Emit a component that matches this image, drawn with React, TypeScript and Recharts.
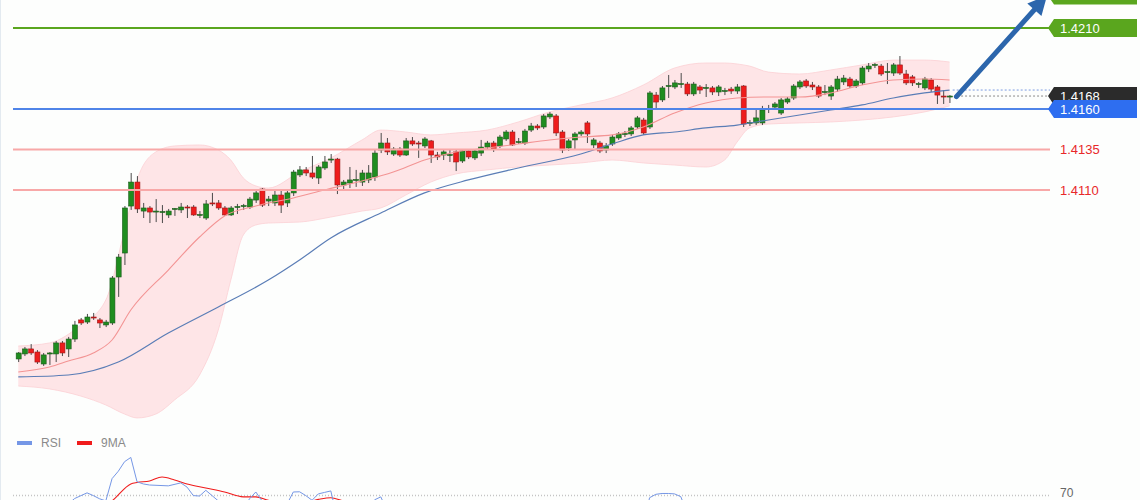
import React from 'react';
import { ComposedChart, LineChart, Bar, Line, Area, XAxis, YAxis, ReferenceLine } from 'recharts';

// ---- candles (index = position in arrays) ----
const opens = [
  1.40057, 1.40088, 1.40119, 1.40100, 1.40026, 1.40088, 1.40088, 1.40156, 1.40119, 1.40180,
  1.40298, 1.40285, 1.40316, 1.40298, 1.40267, 1.40279, 1.40563, 1.40711, 1.41001, 1.41149,
  1.40970, 1.40989, 1.40964, 1.40964, 1.40946, 1.40983, 1.40977, 1.40995, 1.40995, 1.40946,
  1.40927, 1.41020, 1.41020, 1.40989, 1.40946, 1.40995, 1.41001, 1.40995, 1.41038, 1.41106,
  1.41032, 1.41020, 1.41069, 1.41020, 1.41082, 1.41193, 1.41224, 1.41205, 1.41174, 1.41236,
  1.41285, 1.41291, 1.41131, 1.41143, 1.41162, 1.41149, 1.41162, 1.41180, 1.41347, 1.41390,
  1.41322, 1.41353, 1.41316, 1.41403, 1.41390, 1.41372, 1.41403, 1.41316, 1.41316, 1.41316,
  1.41335, 1.41279, 1.41341, 1.41298, 1.41328, 1.41365, 1.41390, 1.41372, 1.41415, 1.41458,
  1.41396, 1.41390, 1.41470, 1.41495, 1.41489, 1.41551, 1.41557, 1.41458, 1.41359, 1.41409,
  1.41446, 1.41514, 1.41378, 1.41390, 1.41347, 1.41384, 1.41421, 1.41446, 1.41446, 1.41489,
  1.41532, 1.41489, 1.41686, 1.41656, 1.41742, 1.41736, 1.41754, 1.41754, 1.41693, 1.41736,
  1.41730, 1.41730, 1.41705, 1.41711, 1.41723, 1.41711, 1.41742, 1.41514, 1.41514, 1.41514,
  1.41600, 1.41612, 1.41575, 1.41643, 1.41668, 1.41736, 1.41773, 1.41748, 1.41736, 1.41705,
  1.41680, 1.41723, 1.41767, 1.41785, 1.41742, 1.41761, 1.41847, 1.41872, 1.41865, 1.41828,
  1.41822, 1.41872, 1.41816, 1.41798, 1.41754, 1.41730, 1.41779, 1.41736, 1.41680, 1.41674,
];
const highs = [
  1.40100, 1.40131, 1.40149, 1.40112, 1.40094, 1.40100, 1.40168, 1.40168, 1.40193, 1.40292,
  1.40310, 1.40335, 1.40341, 1.40310, 1.40298, 1.40569, 1.40705, 1.41001, 1.41205, 1.41186,
  1.41020, 1.41001, 1.41044, 1.41007, 1.40983, 1.40989, 1.41020, 1.41007, 1.41007, 1.40970,
  1.41038, 1.41082, 1.41038, 1.41001, 1.41001, 1.41014, 1.41014, 1.41057, 1.41106, 1.41112,
  1.41063, 1.41100, 1.41100, 1.41100, 1.41224, 1.41248, 1.41242, 1.41310, 1.41254, 1.41310,
  1.41322, 1.41298, 1.41162, 1.41242, 1.41224, 1.41224, 1.41254, 1.41347, 1.41452, 1.41421,
  1.41365, 1.41365, 1.41421, 1.41427, 1.41403, 1.41427, 1.41409, 1.41335, 1.41347, 1.41347,
  1.41347, 1.41347, 1.41347, 1.41347, 1.41409, 1.41403, 1.41403, 1.41440, 1.41470, 1.41470,
  1.41421, 1.41477, 1.41514, 1.41507, 1.41569, 1.41582, 1.41569, 1.41470, 1.41415, 1.41458,
  1.41470, 1.41526, 1.41421, 1.41403, 1.41390, 1.41440, 1.41458, 1.41464, 1.41495, 1.41557,
  1.41545, 1.41711, 1.41705, 1.41742, 1.41810, 1.41779, 1.41822, 1.41767, 1.41767, 1.41748,
  1.41754, 1.41742, 1.41748, 1.41730, 1.41736, 1.41754, 1.41748, 1.41532, 1.41594, 1.41619,
  1.41625, 1.41643, 1.41668, 1.41674, 1.41754, 1.41779, 1.41785, 1.41767, 1.41748, 1.41748,
  1.41748, 1.41804, 1.41810, 1.41798, 1.41785, 1.41865, 1.41884, 1.41884, 1.41878, 1.41884,
  1.41884, 1.41927, 1.41841, 1.41810, 1.41767, 1.41798, 1.41791, 1.41748, 1.41717, 1.41686,
];
const lows = [
  1.40038, 1.40075, 1.40082, 1.40026, 1.40014, 1.40020, 1.40038, 1.40075, 1.40069, 1.40162,
  1.40267, 1.40273, 1.40298, 1.40248, 1.40254, 1.40267, 1.40440, 1.40637, 1.40977, 1.40958,
  1.40927, 1.40896, 1.40902, 1.40896, 1.40927, 1.40940, 1.40958, 1.40927, 1.40940, 1.40927,
  1.40915, 1.41001, 1.40977, 1.40940, 1.40940, 1.40952, 1.40977, 1.40983, 1.41020, 1.40995,
  1.41001, 1.41001, 1.40958, 1.40995, 1.41063, 1.41180, 1.41186, 1.41168, 1.41137, 1.41224,
  1.41267, 1.41075, 1.41100, 1.41112, 1.41119, 1.41125, 1.41143, 1.41156, 1.41328, 1.41316,
  1.41310, 1.41304, 1.41310, 1.41372, 1.41298, 1.41359, 1.41267, 1.41285, 1.41285, 1.41273,
  1.41217, 1.41267, 1.41291, 1.41285, 1.41310, 1.41353, 1.41335, 1.41359, 1.41403, 1.41372,
  1.41384, 1.41378, 1.41458, 1.41470, 1.41477, 1.41538, 1.41433, 1.41328, 1.41341, 1.41347,
  1.41433, 1.41390, 1.41359, 1.41328, 1.41328, 1.41372, 1.41409, 1.41427, 1.41433, 1.41477,
  1.41440, 1.41477, 1.41594, 1.41643, 1.41668, 1.41723, 1.41730, 1.41680, 1.41680, 1.41693,
  1.41674, 1.41686, 1.41680, 1.41686, 1.41693, 1.41693, 1.41489, 1.41495, 1.41501, 1.41501,
  1.41575, 1.41600, 1.41563, 1.41631, 1.41656, 1.41723, 1.41730, 1.41717, 1.41668, 1.41686,
  1.41656, 1.41705, 1.41748, 1.41730, 1.41730, 1.41748, 1.41828, 1.41853, 1.41804, 1.41754,
  1.41804, 1.41810, 1.41748, 1.41742, 1.41730, 1.41717, 1.41705, 1.41631, 1.41631, 1.41637,
];
const closes = [
  1.40094, 1.40119, 1.40094, 1.40038, 1.40082, 1.40094, 1.40156, 1.40094, 1.40180, 1.40267,
  1.40279, 1.40316, 1.40310, 1.40279, 1.40285, 1.40557, 1.40686, 1.40989, 1.41149, 1.40983,
  1.40989, 1.40964, 1.40970, 1.40967, 1.40970, 1.40986, 1.40995, 1.40992, 1.40946, 1.40949,
  1.41014, 1.41017, 1.40989, 1.40946, 1.40989, 1.40998, 1.41004, 1.41044, 1.41082, 1.41007,
  1.41044, 1.41069, 1.41007, 1.41082, 1.41211, 1.41224, 1.41205, 1.41180, 1.41242, 1.41273,
  1.41291, 1.41131, 1.41149, 1.41162, 1.41165, 1.41205, 1.41205, 1.41328, 1.41390, 1.41335,
  1.41353, 1.41316, 1.41403, 1.41384, 1.41384, 1.41415, 1.41316, 1.41304, 1.41335, 1.41319,
  1.41273, 1.41341, 1.41304, 1.41341, 1.41365, 1.41390, 1.41353, 1.41427, 1.41458, 1.41378,
  1.41399, 1.41464, 1.41495, 1.41483, 1.41557, 1.41569, 1.41452, 1.41347, 1.41403, 1.41446,
  1.41458, 1.41446, 1.41409, 1.41341, 1.41372, 1.41427, 1.41446, 1.41449, 1.41483, 1.41545,
  1.41452, 1.41699, 1.41643, 1.41730, 1.41745, 1.41761, 1.41757, 1.41693, 1.41754, 1.41717,
  1.41733, 1.41705, 1.41736, 1.41714, 1.41711, 1.41736, 1.41507, 1.41517, 1.41545, 1.41594,
  1.41603, 1.41631, 1.41656, 1.41662, 1.41742, 1.41767, 1.41742, 1.41736, 1.41680, 1.41708,
  1.41736, 1.41785, 1.41791, 1.41742, 1.41773, 1.41853, 1.41865, 1.41875, 1.41816, 1.41831,
  1.41872, 1.41822, 1.41761, 1.41761, 1.41757, 1.41785, 1.41723, 1.41686, 1.41677, 1.41680,
];

// ---- moving averages / band (read at sample candles) ----
const fastMaIdx = [0, 5, 8, 12, 15, 18, 24, 29, 33, 38, 44, 49, 55, 60, 65, 70, 75, 80, 85, 90, 95, 100, 105, 110, 115, 120, 125, 130, 135, 140, 145, 149];
const fastMaVals = [1.39977, 1.40007, 1.40044, 1.40094, 1.40174, 1.40359, 1.40606, 1.40810, 1.40940, 1.41001, 1.41051, 1.41100, 1.41156, 1.41211, 1.41285, 1.41335, 1.41359, 1.41384, 1.41409, 1.41427, 1.41440, 1.41489, 1.41575, 1.41637, 1.41668, 1.41674, 1.41674, 1.41699, 1.41748, 1.41779, 1.41785, 1.41779];
const slowMaIdx = [0, 8, 16, 24, 32, 40, 45, 50, 58, 65, 72, 80, 90, 95, 100, 105, 110, 115, 120, 125, 130, 135, 140, 145, 149];
const slowMaVals = [1.39946, 1.39958, 1.40038, 1.40217, 1.40378, 1.40544, 1.40668, 1.40804, 1.40958, 1.41082, 1.41162, 1.41236, 1.41322, 1.41384, 1.41440, 1.41458, 1.41483, 1.41501, 1.41532, 1.41563, 1.41594, 1.41625, 1.41668, 1.41699, 1.41717];
const bandIdx = [0, 5, 10, 14, 17, 19, 22, 25, 29, 32, 34, 36, 38, 40, 45, 50, 55, 58, 62, 66, 70, 75, 80, 85, 90, 95, 100, 105, 110, 113, 115, 117, 120, 125, 130, 135, 140, 145, 149];
const bandUpper = [1.40137, 1.40156, 1.40267, 1.40421, 1.40853, 1.41162, 1.41335, 1.41372, 1.41378, 1.41347, 1.41285, 1.41174, 1.41125, 1.41112, 1.41211, 1.41298, 1.41409, 1.41470, 1.41458, 1.41440, 1.41452, 1.41470, 1.41520, 1.41582, 1.41625, 1.41668, 1.41748, 1.41853, 1.41884, 1.41884, 1.41878, 1.41865, 1.41828, 1.41816, 1.41841, 1.41872, 1.41902, 1.41902, 1.41890];
const bandLower = [1.39890, 1.39872, 1.39828, 1.39773, 1.39717, 1.39693, 1.39717, 1.39804, 1.39958, 1.40236, 1.40544, 1.40822, 1.40884, 1.40896, 1.40902, 1.40933, 1.40970, 1.40989, 1.41069, 1.41149, 1.41199, 1.41224, 1.41242, 1.41254, 1.41267, 1.41285, 1.41267, 1.41254, 1.41242, 1.41285, 1.41396, 1.41483, 1.41507, 1.41514, 1.41520, 1.41532, 1.41551, 1.41582, 1.41619];

// ---- RSI panel ----
const rsiIdx = [0, 5, 8, 9, 11, 12, 13, 14, 15, 16, 17, 18, 19, 20, 21, 24, 26, 27, 28, 29, 30, 31, 32, 34, 36, 37, 38, 39, 40, 42, 43, 44, 45, 46, 47, 48, 49, 50, 51, 53, 56, 57, 58, 59, 62, 70, 80, 90, 100, 101, 102, 103, 104, 105, 106, 107, 115, 125, 135, 149];
const rsiVals = [58, 62, 66, 68.6, 71.3, 70, 68.5, 67.5, 78, 81.5, 86, 88, 76.5, 75.5, 75, 74.6, 76, 74, 70, 69.8, 72.5, 70, 67.5, 62, 64, 68.5, 71.7, 67.5, 64, 62, 66, 71.7, 71.8, 70, 67.8, 70.8, 71.5, 72.2, 60, 62, 64, 68, 69.4, 63, 62, 58, 60, 57, 55, 69, 70.6, 71, 71, 70.8, 69.5, 62, 52, 58, 56, 45];
const rsiMaIdx = [0, 10, 15, 18, 19, 21, 23, 25, 27, 30, 33, 36, 38, 40, 45, 48, 50, 52, 60, 80, 100, 120, 149];
const rsiMaVals = [55, 60, 67.5, 75.5, 76.2, 76.9, 78.8, 77.4, 75.5, 73.6, 71.7, 69.4, 69.4, 67.8, 66, 68.2, 69, 67.5, 65, 62, 60, 62, 58];
const rsiLevel = 70;
const legendNames = ['RSI', '9MA'];

// ---- price levels ----
const targetTop = 1.4230;
const resistance = 1.4210;
const lastPrice = 1.4168;
const pivot = 1.4160;
const supports = [1.4135, 1.4110];
const arrowFrom = { i: 150.1, p: 1.41676 };
const arrowTo = { i: 164.6, p: 1.42300 };
const slowMaLast = 1.41717;

const candles = opens.map((o, i) => ({ i, o, h: highs[i], l: lows[i], c: closes[i] }));
const fastMa = fastMaIdx.map((i, k) => ({ i, v: fastMaVals[k] }));
const slowMa = slowMaIdx.map((i, k) => ({ i, v: slowMaVals[k] }));
const band = bandIdx.map((i, k) => ({ i, r: [bandLower[k], bandUpper[k]] }));
const rsi = rsiIdx.map((i, k) => ({ i, v: rsiVals[k] }));
const rsiMa = rsiMaIdx.map((i, k) => ({ i, v: rsiMaVals[k] }));

const X_DOMAIN: [number, number] = [-0.848, 165.072];
const FONT = '"Liberation Sans", Arial, sans-serif';
const GREEN = '#5aa61e';
const BLUE = '#2e6ef0';
const RSI_COLOR = '#7597e6';
const RSI_MA_COLOR = '#f01c1c';

const Candle = (props: any) => {
  const { x, y, width, height, payload } = props;
  if (!payload || x == null) return null;
  const { o, h, l, c } = payload;
  const top = Math.min(y, y + height);
  const hh = Math.abs(height);
  const cx = x + width / 2;
  const k = hh / (h - l);
  const bt = top + (h - Math.max(o, c)) * k;
  const bb = top + (h - Math.min(o, c)) * k;
  const up = c >= o;
  return (
    <g>
      <line x1={cx} x2={cx} y1={top} y2={top + hh} stroke="#4a4a4a" strokeWidth={1} />
      <rect
        x={cx - 2.5}
        y={bt}
        width={5}
        height={Math.max(1, bb - bt)}
        fill={up ? '#1f8d1f' : '#ee1c1c'}
        stroke={up ? '#1b5a1b' : '#9a1818'}
        strokeWidth={0.6}
      />
    </g>
  );
};

const Tag = (props: any) => {
  const { viewBox, text, fill, color, boxed, dy = 4.6, size = 13 } = props;
  if (!viewBox) return null;
  const left = viewBox.x + viewBox.width - 2;
  const y = viewBox.y;
  return (
    <g>
      {boxed && (
        <polygon
          points={`${left},${y} ${left + 6},${y - 9} ${left + 89},${y - 9} ${left + 89},${y + 9} ${left + 6},${y + 9}`}
          fill={fill}
        />
      )}
      {text && (
        <text x={left + 12} y={y + dy} fontSize={size} fontFamily={FONT} fill={color}>
          {text}
        </text>
      )}
    </g>
  );
};

const Arrow = (p: any) => {
  const { x1, y1, x2, y2 } = p;
  const dx = x2 - x1;
  const dy = y2 - y1;
  const len = Math.hypot(dx, dy) || 1;
  const ux = dx / len;
  const uy = dy / len;
  const nx = -uy;
  const ny = ux;
  const hl = 19;
  const hw = 9.5;
  const bx = x2 - ux * hl;
  const by = y2 - uy * hl;
  return (
    <g>
      <line x1={x1} y1={y1} x2={bx + ux * 3} y2={by + uy * 3} stroke="#2c66ac" strokeWidth={5} strokeLinecap="round" />
      <polygon points={`${x2},${y2} ${bx + nx * hw},${by + ny * hw} ${bx - nx * hw},${by - ny * hw}`} fill="#2c66ac" />
    </g>
  );
};

const fmt = (v: number) => v.toFixed(4);

export default function App() {
  return (
    <div
      style={{
        position: 'absolute',
        left: 0,
        top: 0,
        width: 1140,
        height: 500,
        overflow: 'hidden',
        background: '#fdfefd',
        borderLeft: '1px solid #e3eaf0',
        boxSizing: 'border-box',
        fontFamily: FONT,
      }}
    >
      <div style={{ position: 'absolute', left: -1, top: 0 }}>
        <ComposedChart width={1140} height={425} data={candles} margin={{ top: 0, right: 90, bottom: 0, left: 13 }}>
          <XAxis dataKey="i" type="number" domain={X_DOMAIN} allowDataOverflow hide />
          <YAxis type="number" domain={[1.396494, 1.422728]} allowDataOverflow hide />
          <Area
            data={band}
            dataKey="r"
            type="monotone"
            stroke="#fbd0d4"
            strokeWidth={0.8}
            fill="#ffd3d8"
            fillOpacity={0.6}
            isAnimationActive={false}
            dot={false}
            activeDot={false}
          />
          <Line data={fastMa} dataKey="v" type="monotone" stroke="#f39494" strokeWidth={1.1} dot={false} isAnimationActive={false} />
          <Line data={slowMa} dataKey="v" type="monotone" stroke="#5a7db6" strokeWidth={1.2} dot={false} isAnimationActive={false} />
          {supports.map((s) => (
            <ReferenceLine key={s} y={s} stroke="#f8a8a8" strokeWidth={2} label={<Tag text={fmt(s)} color="#e8282a" />} />
          ))}
          <ReferenceLine y={resistance} stroke={GREEN} strokeWidth={2} label={<Tag text={fmt(resistance)} boxed fill={GREEN} color="#ffffff" />} />
          <ReferenceLine
            y={targetTop}
            ifOverflow="visible"
            stroke={GREEN}
            strokeWidth={2}
            label={<Tag boxed fill={GREEN} />}
          />
          <ReferenceLine
            segment={[{ x: 149.5, y: slowMaLast }, { x: X_DOMAIN[1], y: slowMaLast }]}
            stroke="#7b9be0"
            strokeDasharray="2 2"
            strokeWidth={1}
          />
          <ReferenceLine
            segment={[{ x: 150.2, y: lastPrice }, { x: X_DOMAIN[1], y: lastPrice }]}
            stroke="#8a8a8a"
            strokeDasharray="2 2"
            strokeWidth={1}
            label={<Tag text={fmt(lastPrice)} boxed fill="#2b2b2b" color="#ffffff" />}
          />
          <ReferenceLine y={pivot} stroke="#4f84e8" strokeWidth={2} label={<Tag text={fmt(pivot)} boxed fill={BLUE} color="#ffffff" />} />
          <Bar dataKey={(d: any) => [d.l, d.h]} barSize={5} shape={(p: any) => <Candle {...p} />} isAnimationActive={false} />
          <ReferenceLine
            segment={[{ x: arrowFrom.i, y: arrowFrom.p }, { x: arrowTo.i, y: arrowTo.p }]}
            ifOverflow="visible"
            shape={(p: any) => <Arrow {...p} />}
          />
        </ComposedChart>
      </div>

      <div style={{ position: 'absolute', left: 16, top: 436, display: 'flex', alignItems: 'center', height: 14, fontSize: 12, color: '#8a8a8a' }}>
        {legendNames.map((n, k) => (
          <div key={n} style={{ display: 'flex', alignItems: 'center', marginRight: 16 }}>
            <span style={{ display: 'inline-block', width: 15, height: 4, background: k === 0 ? RSI_COLOR : RSI_MA_COLOR, marginRight: 9 }} />
            <span style={{ lineHeight: '14px' }}>{n}</span>
          </div>
        ))}
      </div>

      <div style={{ position: 'absolute', left: -1, top: 432 }}>
        <LineChart width={1140} height={212} margin={{ top: 0, right: 90, bottom: 0, left: 13 }}>
          <XAxis dataKey="i" type="number" domain={X_DOMAIN} allowDataOverflow hide />
          <YAxis type="number" domain={[0, 100]} allowDataOverflow hide />
          <ReferenceLine
            y={rsiLevel}
            stroke="#c4c4c4"
            strokeDasharray="1 2"
            strokeWidth={1.5}
            label={<Tag text={String(rsiLevel)} color="#666666" dy={1.8} size={12} />}
          />
          <Line data={rsiMa} dataKey="v" type="monotone" stroke={RSI_MA_COLOR} strokeWidth={1.1} dot={false} isAnimationActive={false} />
          <Line data={rsi} dataKey="v" type="linear" stroke={RSI_COLOR} strokeWidth={1} dot={false} isAnimationActive={false} />
        </LineChart>
      </div>
    </div>
  );
}
